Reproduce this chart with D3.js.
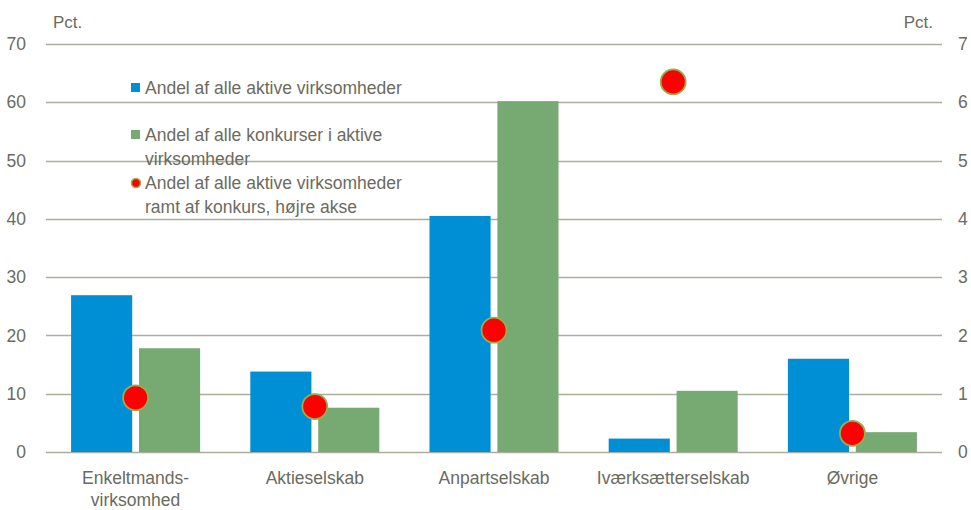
<!DOCTYPE html>
<html>
<head>
<meta charset="utf-8">
<script src="https://cdn.jsdelivr.net/npm/d3@7"></script>
<style>
    body { margin: 0; background: #fff; }
    svg text { font-family: "Liberation Sans", Arial, sans-serif; fill: #6b6b5e; }
</style>
</head>
<body>
<svg id="chart" width="971" height="510"></svg>
<script>
// Chart data
var categories = ["Enkeltmands-\nvirksomhed", "Aktieselskab", "Anpartselskab", "Iværksætterselskab", "Øvrige"];
var seriesNames = ["Andel af alle aktive virksomheder", "Andel af alle konkurser i aktive virksomheder"];
var activeShare = [26.9, 13.8, 40.5, 2.3, 16.0];
var bankruptShare = [17.8, 7.6, 60.2, 10.5, 3.4];
var hitShare = [0.93, 0.78, 2.09, 6.35, 0.32];
var leftTicks = [0, 10, 20, 30, 40, 50, 60, 70];
var rightTicks = [0, 1, 2, 3, 4, 5, 6, 7];

var colors = ["#008fd5", "#77aa72"];
var gridColor = "#adad9d";

var svg = d3.select("#chart");
var margin = {left: 46, right: 29, top: 44, bottom: 58};
var width = 971 - margin.left - margin.right,
    height = 510 - margin.top - margin.bottom;

var g = svg.append("g")
    .attr("transform", "translate(" + margin.left + "," + margin.top + ")");

// Scales
var x = d3.scaleBand().domain(d3.range(categories.length))
    .range([0, width]).paddingInner(0.28).paddingOuter(0.14);
var xInner = d3.scaleBand().domain([0, 1])
    .range([0, x.bandwidth()]).paddingInner(0.1);
var yLeft = d3.scaleLinear().domain([0, 70]).range([height, 0]);
var yRight = d3.scaleLinear().domain([0, 7]).range([height, 0]);

// Gridlines
g.append("g")
    .selectAll("line")
    .data(leftTicks)
    .enter().append("line")
    .attr("x1", 0)
    .attr("x2", width)
    .attr("y1", function(d) { return Math.round(yLeft(d)) + 0.5; })
    .attr("y2", function(d) { return Math.round(yLeft(d)) + 0.5; })
    .attr("stroke", gridColor)
    .attr("stroke-width", 1.3);

// Left axis
var leftAxis = g.append("g")
    .call(d3.axisLeft(yLeft).tickValues(leftTicks).tickSize(0).tickPadding(20));
leftAxis.select(".domain").remove();
leftAxis.selectAll("text").style("font-size", "17.5px").attr("fill", null);

// Right axis
var rightAxis = g.append("g")
    .attr("transform", "translate(" + width + ",0)")
    .call(d3.axisRight(yRight).tickValues(rightTicks).tickFormat(d3.format("d"))
        .tickSize(0).tickPadding(16));
rightAxis.select(".domain").remove();
rightAxis.selectAll("text").style("font-size", "17.5px").attr("fill", null);

// Unit labels
svg.append("text").attr("x", 53).attr("y", 28).style("font-size", "17px").text("Pct.");
svg.append("text").attr("x", 933).attr("y", 28).attr("text-anchor", "end")
    .style("font-size", "17px").text("Pct.");

// Bars
var barData = [];
for (var i = 0; i < categories.length; i++) {
    barData.push({cat: i, s: 0, v: activeShare[i]});
    barData.push({cat: i, s: 1, v: bankruptShare[i]});
}
g.append("g")
    .selectAll("rect")
    .data(barData)
    .enter().append("rect")
    .attr("x", function(d) { return x(d.cat) + xInner(d.s); })
    .attr("width", xInner.bandwidth())
    .attr("y", function(d) { return yLeft(d.v); })
    .attr("height", function(d) { return height - yLeft(d.v); })
    .attr("fill", function(d) { return colors[d.s]; });

// Dots (right axis)
g.append("g")
    .selectAll("circle")
    .data(hitShare)
    .enter().append("circle")
    .attr("cx", function(d, i) { return x(i) + x.bandwidth() / 2; })
    .attr("cy", function(d) { return yRight(d); })
    .attr("r", 12.5)
    .attr("fill", "#ff0000")
    .attr("stroke", "#92b050")
    .attr("stroke-width", 1.8);

// Category labels
var xLabels = g.append("g")
    .selectAll("text")
    .data(categories)
    .enter().append("text")
    .attr("text-anchor", "middle")
    .attr("x", function(d, i) { return x(i) + x.bandwidth() / 2; })
    .attr("y", height + 32)
    .style("font-size", "17.5px");
xLabels.each(function(d) {
    var lines = d.split("\n");
    var el = d3.select(this);
    lines.forEach(function(line, j) {
        el.append("tspan")
            .attr("x", el.attr("x"))
            .attr("dy", j === 0 ? 0 : 22)
            .text(line);
    });
});

// Legend
var legend = svg.append("g");
var legendItems = [
    {lines: ["Andel af alle aktive virksomheder"], type: "rect", color: colors[0], y: 88},
    {lines: ["Andel af alle konkurser i aktive", "virksomheder"], type: "rect", color: colors[1], y: 135},
    {lines: ["Andel af alle aktive virksomheder", "ramt af konkurs, højre akse"], type: "circle", y: 183}
];
legendItems.forEach(function(item) {
    if (item.type === "rect") {
        legend.append("rect")
            .attr("x", 131).attr("y", item.y - 5)
            .attr("width", 9).attr("height", 9)
            .attr("fill", item.color);
    } else {
        legend.append("circle")
            .attr("cx", 136).attr("cy", item.y)
            .attr("r", 4.5)
            .attr("fill", "#ff0000")
            .attr("stroke", "#92b050")
            .attr("stroke-width", 1.5);
    }
    var t = legend.append("text")
        .attr("x", 145).attr("y", item.y + 6)
        .style("font-size", "17.5px");
    item.lines.forEach(function(line, j) {
        t.append("tspan").attr("x", 145).attr("dy", j === 0 ? 0 : 24).text(line);
    });
});
</script>
</body>
</html>
